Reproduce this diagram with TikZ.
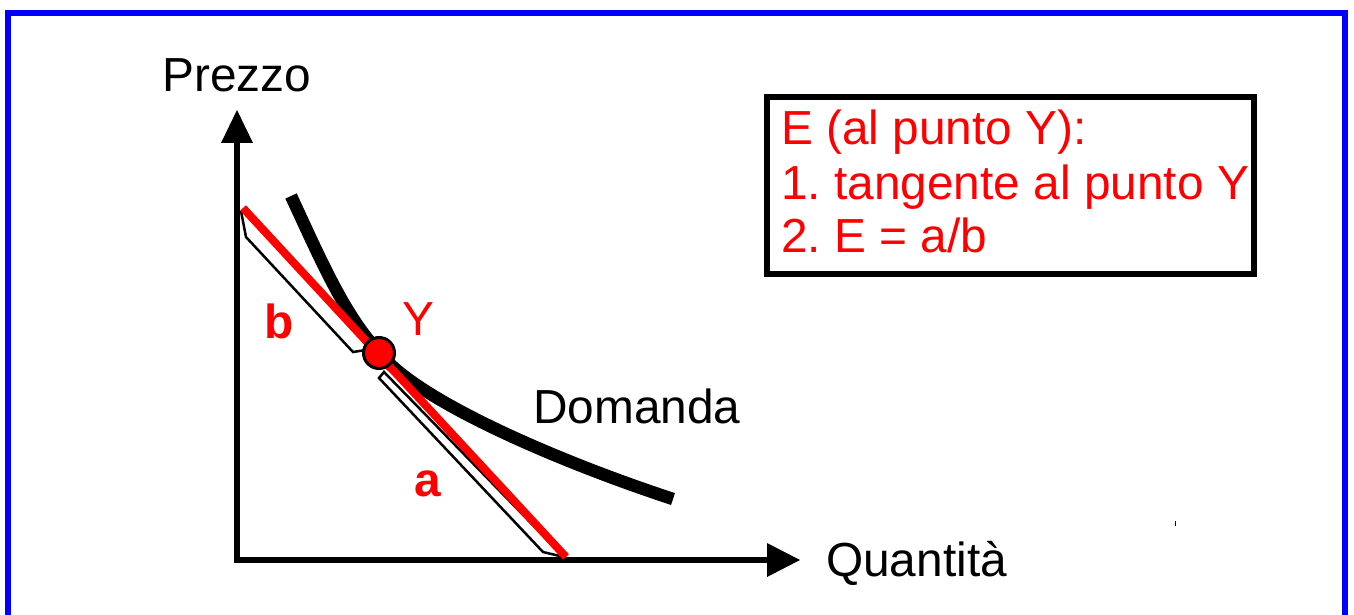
\documentclass[tikz,border=0pt]{standalone}
\usepackage{fontspec}
\setmainfont{Liberation Sans}
\definecolor{pblue}{RGB}{0,0,255}
\definecolor{pred}{RGB}{255,0,0}
\begin{document}
\frenchspacing
\begin{tikzpicture}[x=1pt,y=-1pt,
  lbl/.style={inner sep=0pt,anchor=base west,font=\fontsize{47.8}{56}\selectfont},
  redlbl/.style={lbl,text=pred},
  axisline/.style={line width=6.5pt,line join=miter},
  arrowtip/.style={fill=black,draw=none},
  bracketline/.style={draw=black,line width=2.5pt,fill=white,line join=miter},
  tangent/.style={draw=pred,line width=8pt},
  demand/.style={draw=black,line width=12.5pt},
  infobox/.style={draw=black,line width=6pt}]
\useasboundingbox (0,0) rectangle (1354,615);
\fill[white] (0,0) rectangle (1354,615);
\begin{scope}
\clip (0,0) rectangle (1354,615);
\draw[pblue,line width=6pt] (8,13) rectangle (1345,700);
\end{scope}
% axes
\coordinate (ytip) at (237,110);
\coordinate (ybase) at (237,143);
\coordinate (O) at (237,560);
\coordinate (xbase) at (767,560);
\coordinate (xtip) at (800,560);
\draw[axisline] (ybase) -- (O) -- (xbase);
\fill[arrowtip] (ytip) -- (221,143) -- (253,143) -- cycle;
\fill[arrowtip] (xtip) -- (767,543) -- (767,577) -- cycle;
% brackets
\draw[bracketline,fill=none] (241,211) -- (246,237) -- (353,352) -- (366,350);
\draw[bracketline] (384,372) -- (379,378) -- (543,552) -- (564,557) -- cycle;
% demand curve
\coordinate (d1) at (291,196);
\coordinate (dY) at (379,352);
\coordinate (d2) at (673,499);
\draw[demand] (d1) .. controls (320,258) and (344,315) .. (dY)
  .. controls (415,400) and (560,462) .. (d2);
% tangent
\coordinate (t1) at (243,208);
\coordinate (t2) at (566,557);
\draw[tangent] (t1) -- (t2);
% point Y
\node[circle,fill=pred,draw=black,line width=3pt,minimum size=31pt,inner sep=0pt] (Y) at (379,353) {};
% labels
\node[lbl] (prezzo) at (162,92) {Prezzo};
\node[lbl] (quant) at (826,576) {Quantità};
\node[lbl] (dom) at (533,423) {Domanda};
\node[redlbl,font=\fontsize{47.8}{56}\selectfont\bfseries] (lb) at (264,338) {b};
\node[redlbl,font=\fontsize{47.8}{56}\selectfont\bfseries] (la) at (414,496) {a};
\node[redlbl] (ly) at (402,335) {Y};
% info box
\draw[infobox] (767,97.5) rectangle (1254,274);
\node[redlbl] (l1) at (781,145) {E (al punto Y):};
\node[redlbl] (l2) at (781,199) {1. tangente al punto Y};
\node[redlbl] (l3) at (781,252) {2. E = a/b};
% small mark
\draw[black,line width=1pt] (1175,521) -- (1175,526);
\end{tikzpicture}
\end{document}
